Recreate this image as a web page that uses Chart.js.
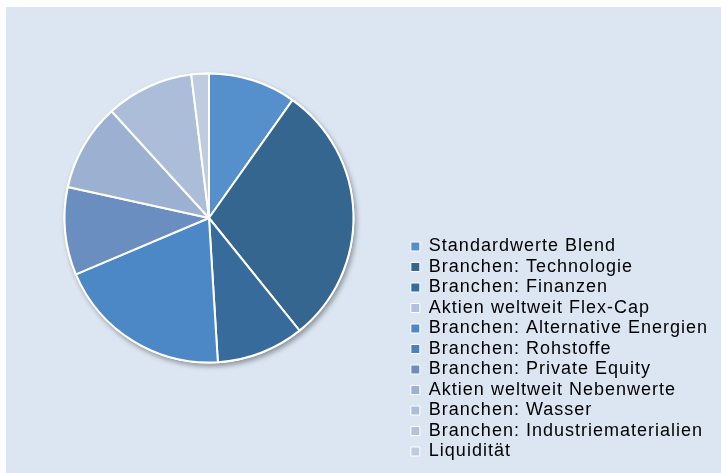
<!DOCTYPE html>
<html lang="de">
<head>
  <meta charset="UTF-8">
  <title>Aufteilung</title>
  <style>
    html, body { margin: 0; padding: 0; background: #fff; overflow: hidden; }
    #panel {
      position: absolute; left: 6px; top: 7px;
      width: 715px; height: 466px;
      background: #dce6f2; overflow: hidden;
    }
    #pieChart { position: absolute; left: -6px; top: -34px; }
  </style>
</head>
<body>
  <div id="panel">
    <canvas id="pieChart" width="721" height="500"></canvas>
  </div>

  <script src="https://cdn.jsdelivr.net/npm/chart.js"></script>
  <script>
    // Daten
    const categories = [
      'Standardwerte Blend',
      'Branchen: Technologie',
      'Branchen: Finanzen',
      'Aktien weltweit Flex-Cap',
      'Branchen: Alternative Energien',
      'Branchen: Rohstoffe',
      'Branchen: Private Equity',
      'Aktien weltweit Nebenwerte',
      'Branchen: Wasser',
      'Branchen: Industriematerialien',
      'Liquidität'
    ];
    const shares = [10, 30, 10, 0, 20, 0, 10, 10, 10, 0, 2];

    const sliceColors = [
      '#5590cc', '#34668f', '#376b9c', '#adc3df', '#4d88c6', '#4a80bf',
      '#6b8ec0', '#9cb0d1', '#abbdd9', '#b3c2db', '#bfcbdf'
    ];

    // Schatten unter dem Kreis und Buchstabenabstand der Legende
    const pieExtras = {
      id: 'pieExtras',
      beforeLayout(chart) {
        chart.ctx.letterSpacing = '1px';
      },
      beforeDraw(chart) {
        chart.ctx.letterSpacing = '1px';
      },
      beforeDatasetsDraw(chart) {
        const arc = chart.getDatasetMeta(0).data[0];
        if (!arc) return;
        const ctx = chart.ctx;
        ctx.save();
        ctx.shadowColor = 'rgba(0, 0, 0, 0.35)';
        ctx.shadowBlur = 5;
        ctx.shadowOffsetX = 2;
        ctx.shadowOffsetY = 3;
        ctx.fillStyle = '#ffffff';
        ctx.beginPath();
        ctx.arc(arc.x, arc.y, arc.outerRadius + 1, 0, Math.PI * 2);
        ctx.fill();
        ctx.restore();
      }
    };

    const ctx = document.getElementById('pieChart').getContext('2d');
    new Chart(ctx, {
      type: 'pie',
      data: {
        labels: categories,
        datasets: [{
          data: shares,
          backgroundColor: sliceColors,
          borderColor: '#ffffff',
          borderWidth: 2,
          radius: 144.5
        }]
      },
      options: {
        responsive: false,
        animation: false,
        layout: {
          padding: { left: 9.6, top: 0, right: 3, bottom: 10 }
        },
        plugins: {
          tooltip: { enabled: false },
          legend: {
            position: 'right',
            align: 'end',
            labels: {
              boxWidth: 9,
              boxHeight: 9,
              padding: 2.5,
              color: '#000000',
              font: { family: '"Liberation Sans", Arial, sans-serif', size: 18 },
              generateLabels(chart) {
                const items = Chart.overrides.pie.plugins.legend.labels.generateLabels(chart);
                return items.map(it => Object.assign(it, { lineWidth: 1, strokeStyle: '#ffffff' }));
              }
            }
          }
        }
      },
      plugins: [pieExtras]
    });
  </script>
</body>
</html>
